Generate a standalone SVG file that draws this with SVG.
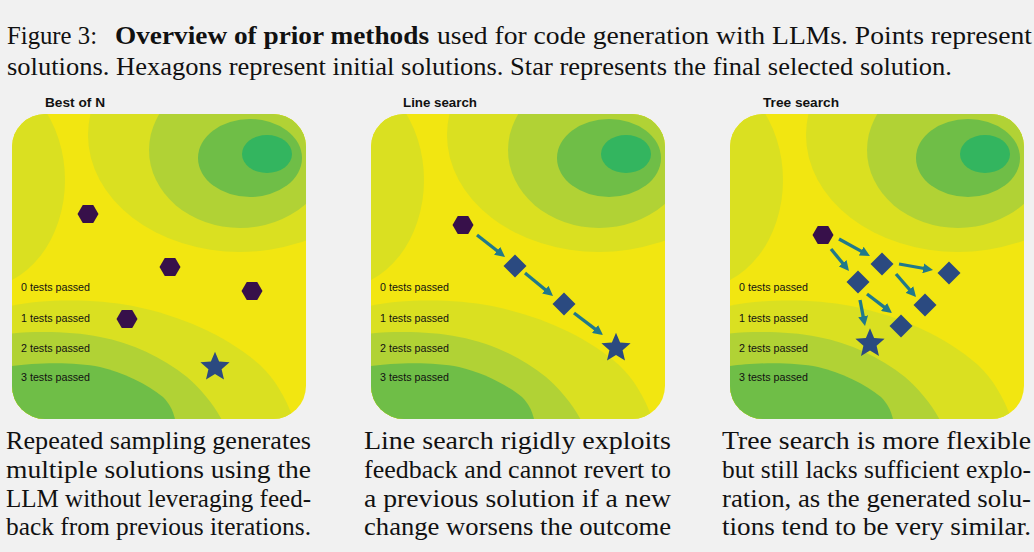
<svg xmlns="http://www.w3.org/2000/svg" xmlns:xlink="http://www.w3.org/1999/xlink" width="1034" height="552" viewBox="0 0 1034 552">
<style>
.cap{font-family:"Liberation Serif","Times New Roman",serif;font-size:25px;fill:#111}
.capb{font-family:"Liberation Serif","Times New Roman",serif;font-size:25px;font-weight:bold;fill:#111}
.body{font-family:"Liberation Serif","Times New Roman",serif;font-size:24.5px;fill:#111}
.ttl{font-family:"Liberation Sans",Arial,sans-serif;font-size:12px;font-weight:bold;fill:#111}
.lbl{font-family:"Liberation Sans",Arial,sans-serif;font-size:11px;fill:#111}
.hex{fill:#37104A}
.pt{fill:#2B4A80}
.arr{fill:none;stroke:#20798B;stroke-width:3.3;marker-end:url(#ah)}
</style>
<defs>
<clipPath id="cp"><rect x="0" y="0" width="294" height="305" rx="33" ry="33"/></clipPath>
<marker id="ah" markerUnits="userSpaceOnUse" viewBox="0 0 10 10" markerWidth="10" markerHeight="10" refX="4" refY="5" orient="auto"><path d="M0,0 L10,5 L0,10 Z" fill="#20798B"/></marker>
<path id="hexs" d="M-10.5,0 L-5.25,-9.1 L5.25,-9.1 L10.5,0 L5.25,9.1 L-5.25,9.1 Z"/>
<path id="dia" d="M0,-11.5 L11.5,0 L0,11.5 L-11.5,0 Z"/>
<path id="star" d="M0,-15.3 L4.1,-5.6 L14.6,-4.7 L6.6,2.2 L9,12.4 L0,7 L-9,12.4 L-6.6,2.2 L-14.6,-4.7 L-4.1,-5.6 Z"/>
<g id="field" clip-path="url(#cp)">
<rect x="0" y="0" width="294" height="305" fill="#F2E611"/>
<ellipse cx="-32" cy="66" rx="85" ry="108" fill="#DAE021"/>
<ellipse cx="228" cy="21" rx="152" ry="117" fill="#DAE021"/>
<ellipse cx="228" cy="36" rx="91" ry="78" fill="#B1D235"/>
<ellipse cx="238" cy="44" rx="52" ry="39" fill="#6FBE47"/>
<ellipse cx="255" cy="40" rx="25" ry="19" fill="#33B55F"/>
<path d="M-5,193 C25,185 80,184 121,192 C170,202 215,222 248,251 C263,265 275,285 283,310 L-5,310 Z" fill="#DAE021"/>
<path d="M-5,220 C20,217 60,217 88,223 C120,229 150,243 175,263 C190,276 203,292 212,310 L-5,310 Z" fill="#B1D235"/>
<path d="M-5,253 C15,249 60,247 88,253 C110,258 135,270 151,283 C158,290 162,298 164,310 L-5,310 Z" fill="#6FBE47"/>
</g>
</defs>
<rect x="0" y="0" width="1034" height="552" fill="#F1F1F1"/>

<g id="caption">
<text class="cap" x="7" y="44" textLength="90" lengthAdjust="spacingAndGlyphs">Figure 3:</text>
<text class="capb" x="115" y="44" textLength="314" lengthAdjust="spacingAndGlyphs">Overview of prior methods</text>
<text class="cap" x="437" y="44" textLength="595" lengthAdjust="spacingAndGlyphs">used for code generation with LLMs. Points represent</text>
<text class="cap" x="7" y="75" textLength="945" lengthAdjust="spacingAndGlyphs">solutions. Hexagons represent initial solutions. Star represents the final selected solution.</text>
</g>

<g id="panel-best-of-n">
<use xlink:href="#field" href="#field" x="12" y="114"/>
<text class="ttl" x="45" y="107" textLength="60" lengthAdjust="spacingAndGlyphs">Best of N</text>
<text class="lbl" x="21" y="291" textLength="69" lengthAdjust="spacingAndGlyphs">0 tests passed</text>
<text class="lbl" x="21" y="322" textLength="69" lengthAdjust="spacingAndGlyphs">1 tests passed</text>
<text class="lbl" x="21" y="352" textLength="69" lengthAdjust="spacingAndGlyphs">2 tests passed</text>
<text class="lbl" x="21" y="381" textLength="69" lengthAdjust="spacingAndGlyphs">3 tests passed</text>
</g>
<g id="panel-line-search">
<use xlink:href="#field" href="#field" x="371" y="114"/>
<text class="ttl" x="403" y="107" textLength="74" lengthAdjust="spacingAndGlyphs">Line search</text>
<text class="lbl" x="380" y="291" textLength="69" lengthAdjust="spacingAndGlyphs">0 tests passed</text>
<text class="lbl" x="380" y="322" textLength="69" lengthAdjust="spacingAndGlyphs">1 tests passed</text>
<text class="lbl" x="380" y="352" textLength="69" lengthAdjust="spacingAndGlyphs">2 tests passed</text>
<text class="lbl" x="380" y="381" textLength="69" lengthAdjust="spacingAndGlyphs">3 tests passed</text>
</g>
<g id="panel-tree-search">
<use xlink:href="#field" href="#field" x="730" y="114"/>
<text class="ttl" x="763" y="107" textLength="76" lengthAdjust="spacingAndGlyphs">Tree search</text>
<text class="lbl" x="739" y="291" textLength="69" lengthAdjust="spacingAndGlyphs">0 tests passed</text>
<text class="lbl" x="739" y="322" textLength="69" lengthAdjust="spacingAndGlyphs">1 tests passed</text>
<text class="lbl" x="739" y="352" textLength="69" lengthAdjust="spacingAndGlyphs">2 tests passed</text>
<text class="lbl" x="739" y="381" textLength="69" lengthAdjust="spacingAndGlyphs">3 tests passed</text>
</g>

<g id="connectors">
<path class="arr" d="M477,235 L500.3,253.3"/>
<path class="arr" d="M525,273 L548.4,292.2"/>
<path class="arr" d="M574,313 L598.2,331.4"/>
<path class="arr" d="M839,239 L864.7,253.1"/>
<path class="arr" d="M831,249 L845.2,266.3"/>
<path class="arr" d="M899,264 L927.1,269"/>
<path class="arr" d="M896,274 L912.1,292.5"/>
<path class="arr" d="M867,294 L887.2,309.4"/>
<path class="arr" d="M860,300 L863.9,320.1"/>
</g>

<g id="b-hex1"><use href="#hexs" class="hex" x="88" y="214"/></g>
<g id="b-hex2"><use href="#hexs" class="hex" x="170" y="267"/></g>
<g id="b-hex3"><use href="#hexs" class="hex" x="252" y="291"/></g>
<g id="b-hex4"><use href="#hexs" class="hex" x="127" y="319"/></g>
<g id="b-star"><use href="#star" class="pt" x="215" y="367"/></g>

<g id="l-hex"><use href="#hexs" class="hex" x="463" y="225"/></g>
<g id="l-d1"><use href="#dia" class="pt" x="515" y="266"/></g>
<g id="l-d2"><use href="#dia" class="pt" x="564" y="304"/></g>
<g id="l-star"><use href="#star" class="pt" x="616" y="348"/></g>

<g id="t-hex"><use href="#hexs" class="hex" x="823" y="235"/></g>
<g id="t-a"><use href="#dia" class="pt" x="882" y="264"/></g>
<g id="t-b"><use href="#dia" class="pt" x="858" y="282"/></g>
<g id="t-c"><use href="#dia" class="pt" x="949" y="273"/></g>
<g id="t-d"><use href="#dia" class="pt" x="925" y="305"/></g>
<g id="t-e"><use href="#dia" class="pt" x="901" y="326"/></g>
<g id="t-star"><use href="#star" class="pt" x="870" y="343.5"/></g>

<g id="descriptions">
<text class="body" x="6" y="449" textLength="305" lengthAdjust="spacingAndGlyphs">Repeated sampling generates</text>
<text class="body" x="6" y="478" textLength="305" lengthAdjust="spacingAndGlyphs">multiple solutions using the</text>
<text class="body" x="6" y="507" textLength="305" lengthAdjust="spacingAndGlyphs">LLM without leveraging feed-</text>
<text class="body" x="6" y="535" textLength="305" lengthAdjust="spacingAndGlyphs">back from previous iterations.</text>
<text class="body" x="364" y="449" textLength="307" lengthAdjust="spacingAndGlyphs">Line search rigidly exploits</text>
<text class="body" x="364" y="478" textLength="307" lengthAdjust="spacingAndGlyphs">feedback and cannot revert to</text>
<text class="body" x="364" y="507" textLength="307" lengthAdjust="spacingAndGlyphs">a previous solution if a new</text>
<text class="body" x="364" y="535" textLength="307" lengthAdjust="spacingAndGlyphs">change worsens the outcome</text>
<text class="body" x="722" y="449" textLength="309" lengthAdjust="spacingAndGlyphs">Tree search is more flexible</text>
<text class="body" x="722" y="478" textLength="309" lengthAdjust="spacingAndGlyphs">but still lacks sufficient explo-</text>
<text class="body" x="722" y="507" textLength="309" lengthAdjust="spacingAndGlyphs">ration, as the generated solu-</text>
<text class="body" x="722" y="535" textLength="309" lengthAdjust="spacingAndGlyphs">tions tend to be very similar.</text>
</g>
</svg>
